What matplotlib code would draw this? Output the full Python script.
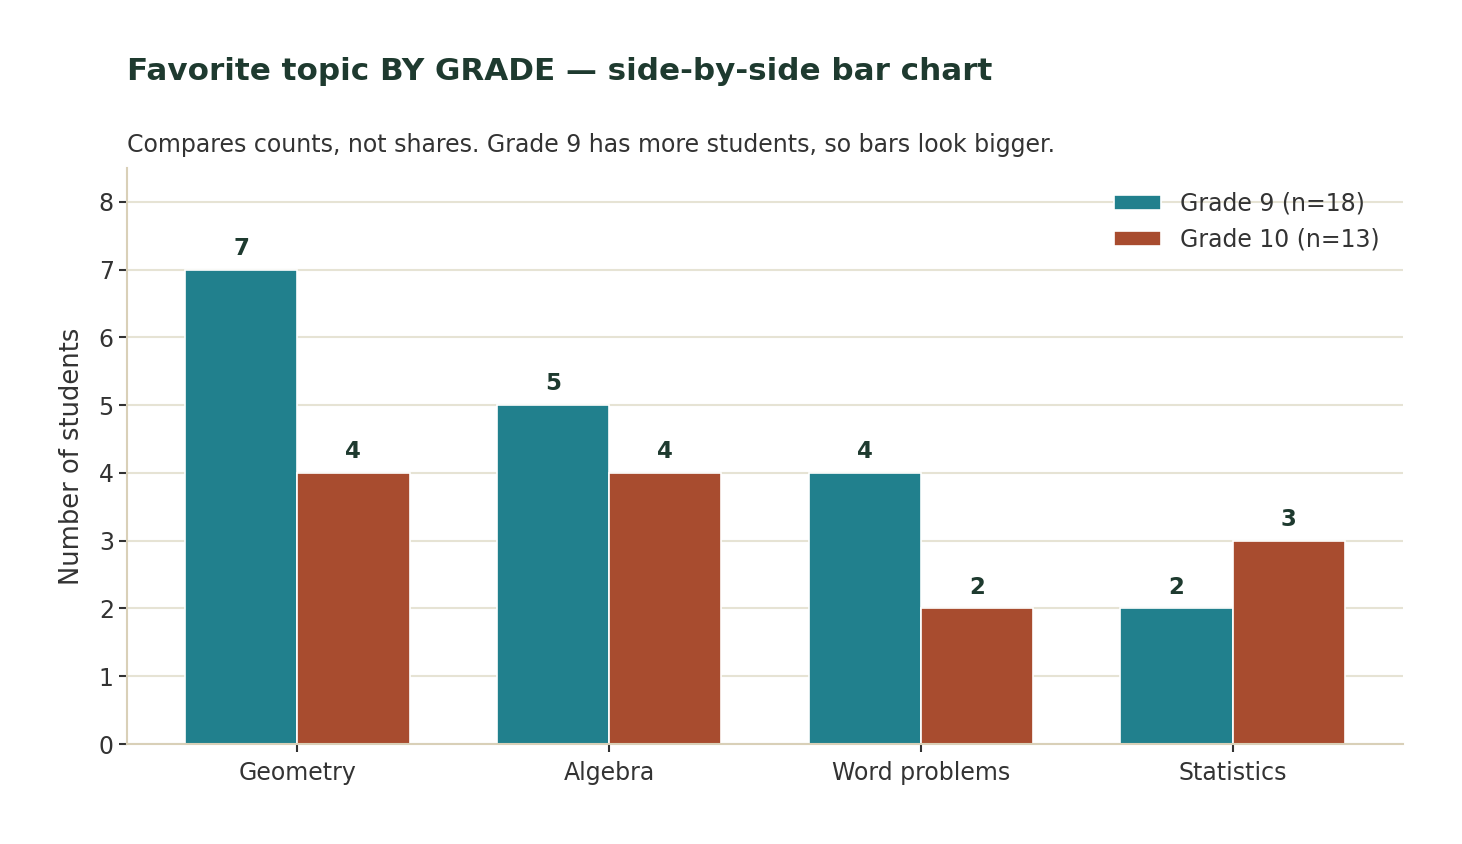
import numpy as np
import matplotlib.pyplot as plt

topics = ["Geometry", "Algebra", "Word problems", "Statistics"]
grade9 = [7, 5, 4, 2]
grade10 = [4, 4, 2, 3]
labels = ["Grade 9 (n=18)", "Grade 10 (n=13)"]

teal = "#21808d"
rust = "#a84c2f"
dark = "#1e3a2f"
txt = "#333333"

fig = plt.figure(figsize=(14.62, 8.44), dpi=100)
ax = fig.add_axes([127 / 1462, 1 - 744 / 844, (1403 - 127) / 1462, (744 - 168) / 844])

x = np.arange(len(topics))
w = 0.36
off = 0.18
b1 = ax.bar(x - off, grade9, w, color=teal, edgecolor="white", linewidth=1.2, label=labels[0], zorder=2)
b2 = ax.bar(x + off, grade10, w, color=rust, edgecolor="white", linewidth=1.2, label=labels[1], zorder=2)

for bars in (b1, b2):
    ax.bar_label(bars, padding=7, fontsize=16.5, fontweight="bold", color=dark)

ax.set_ylim(0, 8.5)
ax.set_xticks(x)
ax.set_xticklabels(topics)
ax.set_yticks(range(9))
ax.tick_params(axis="both", labelsize=17, colors=txt, length=6, width=1.5)
ax.tick_params(axis="x", pad=6)
ax.set_ylabel("Number of students", fontsize=18.5, color=txt, labelpad=10)

ax.grid(axis="y", color="#e6e3d4", linewidth=1.5, zorder=0)
ax.set_axisbelow(True)
for s in ["top", "right"]:
    ax.spines[s].set_visible(False)
for s in ["left", "bottom"]:
    ax.spines[s].set_color("#d9d0b8")
    ax.spines[s].set_linewidth(1.5)

leg = ax.legend(frameon=False, fontsize=17, loc="upper right", labelcolor=txt,
                handlelength=2.0, handleheight=0.6, borderaxespad=0.6)

fig.text(127 / 1462, 1 - 72 / 844, "Favorite topic BY GRADE \u2014 side-by-side bar chart",
         fontsize=22.3, fontweight="bold", color=dark, va="center", ha="left")
fig.text(127 / 1462, 1 - 145 / 844,
         "Compares counts, not shares. Grade 9 has more students, so bars look bigger.",
         fontsize=17, color=txt, va="center", ha="left")

fig.savefig("out.png", dpi=100)
